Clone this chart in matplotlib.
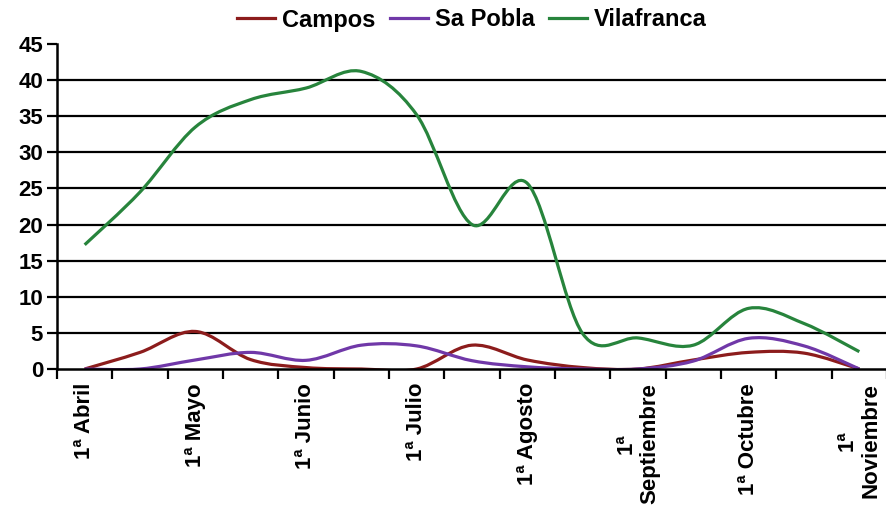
import matplotlib
matplotlib.use("Agg")
import matplotlib.pyplot as plt
from matplotlib.path import Path
from matplotlib.patches import PathPatch
from matplotlib.lines import Line2D

plt.rcParams['font.family'] = ['Liberation Sans', 'DejaVu Sans']
plt.rcParams['font.weight'] = 'bold'

# fortnights from 1st April to 1st November
periods = ["1ª Abril", "2ª Abril", "1ª Mayo", "2ª Mayo", "1ª Junio", "2ª Junio",
           "1ª Julio", "2ª Julio", "1ª Agosto", "2ª Agosto", "1ª Septiembre",
           "2ª Septiembre", "1ª Octubre", "2ª Octubre", "1ª Noviembre"]
tick_labels = ["1ª Abril", "1ª Mayo", "1ª Junio", "1ª Julio", "1ª Agosto",
               "1ª\nSeptiembre", "1ª Octubre", "1ª\nNoviembre"]

campos = [0, 2.3, 5.2, 1.3, 0.2, 0, 0, 3.3, 1.25, 0.2, 0, 1.25, 2.3, 2.2, 0]
sa_pobla = [0, 0, 1.25, 2.3, 1.2, 3.3, 3.2, 1.15, 0.3, 0, 0, 1.1, 4.25, 3.2, 0]
vilafranca = [17.2, 24.5, 33.5, 37.3, 38.9, 41.2, 35.2, 20.0, 25.7, 4.9, 4.3,
              3.3, 8.4, 6.3, 2.4]

series = [("Campos", campos, '#8C1C1C'),
          ("Sa Pobla", sa_pobla, '#7038A8'),
          ("Vilafranca", vilafranca, '#27843C')]


def smooth_path(ys):
    # Excel-style smoothed line: cubic Bezier through each point
    xs = list(range(len(ys)))
    n = len(ys)
    verts = [(xs[0], ys[0])]
    codes = [Path.MOVETO]
    for i in range(n - 1):
        i0 = max(i - 1, 0)
        i3 = min(i + 2, n - 1)
        c1 = (xs[i] + (xs[i + 1] - xs[i0]) / 6, ys[i] + (ys[i + 1] - ys[i0]) / 6)
        c2 = (xs[i + 1] - (xs[i3] - xs[i]) / 6, ys[i + 1] - (ys[i3] - ys[i]) / 6)
        verts += [c1, c2, (xs[i + 1], ys[i + 1])]
        codes += [Path.CURVE4] * 3
    return Path(verts, codes)


fig = plt.figure(figsize=(8.87, 5.12), dpi=100)
ax = fig.add_axes([57 / 887, 1 - 369 / 512, 1 - 57 / 887, 325 / 512])

handles = []
for name, vals, color in series:
    patch = PathPatch(smooth_path(vals), fill=False, edgecolor=color, lw=2.3,
                      joinstyle='round', zorder=3)
    ax.add_patch(patch)
    handles.append(Line2D([], [], color=color, lw=2.3, label=name))

ax.set_xlim(-0.5, len(periods) - 0.5)
ax.set_ylim(0, 45)
ax.set_yticks(range(0, 50, 5))
for y in range(5, 45, 5):
    ax.axhline(y, color='black', lw=1.6, zorder=1)

ax.set_xticks(range(0, len(periods), 2))
ax.set_xticklabels(tick_labels, rotation=90, fontsize=16, fontweight='bold',
                   ha='center', va='top', multialignment='center')
ax.set_xticks([i - 0.5 for i in range(len(periods) + 1)], minor=True)
ax.tick_params(axis='x', which='major', length=0, pad=10)
ax.tick_params(axis='x', which='minor', length=7, width=1.6, direction='out')
ax.tick_params(axis='y', length=7, width=1.6, direction='out', labelsize=16, pad=3)
for lbl in ax.get_yticklabels():
    lbl.set_fontweight('bold')

for side in ['top', 'right']:
    ax.spines[side].set_visible(False)
for side in ['left', 'bottom']:
    ax.spines[side].set_linewidth(1.8)
    ax.spines[side].set_zorder(4)

fig.legend(handles=handles, loc='center', bbox_to_anchor=(472 / 887, 1 - 20 / 512),
           ncol=3, frameon=False, prop={'size': 17, 'weight': 'bold'},
           handlelength=1.6, handletextpad=0.3, columnspacing=0.6)

fig.savefig("out.png", dpi=100)
